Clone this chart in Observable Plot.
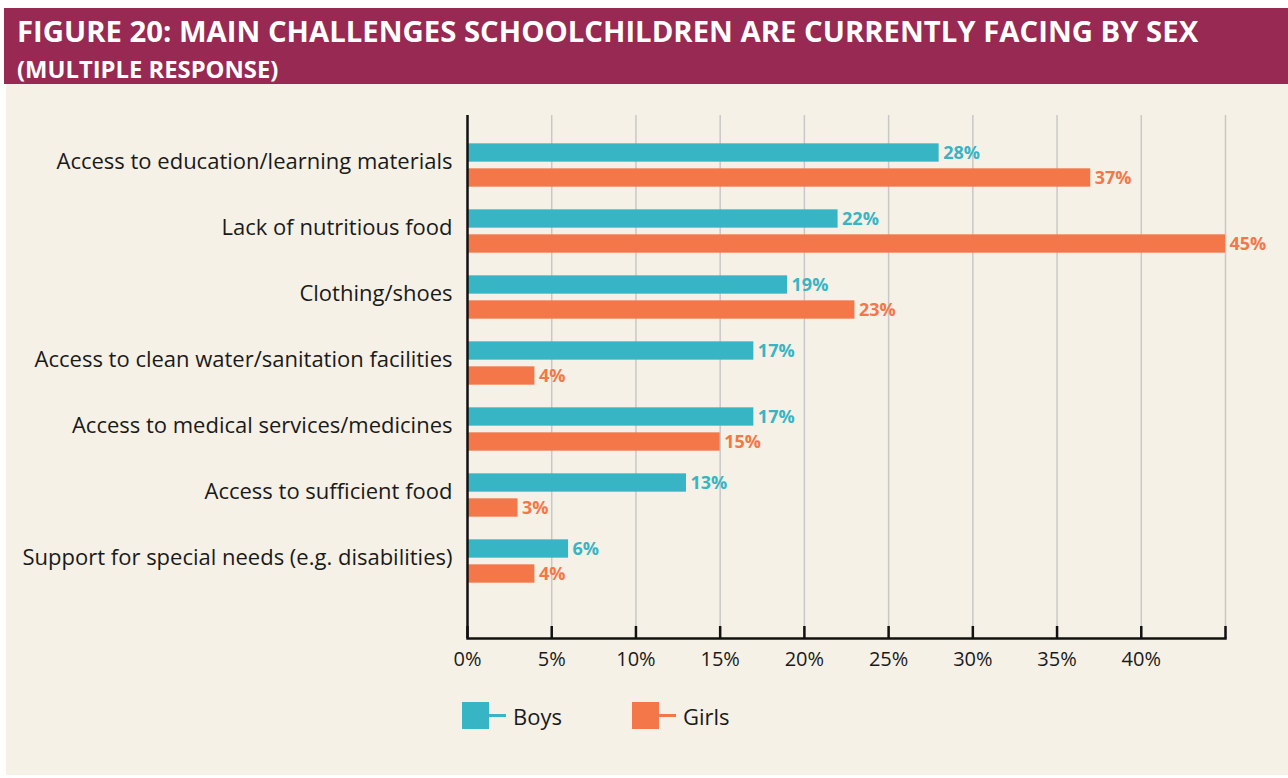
<!DOCTYPE html>
<html>
<head>
<meta charset="utf-8">
<script src="https://cdn.jsdelivr.net/npm/d3@7"></script>
<script src="https://cdn.jsdelivr.net/npm/@observablehq/plot@0.6"></script>
<style>
  body { margin: 0; background: #ffffff; font-family: "Open Sans", sans-serif; }
  #page { position: relative; width: 1288px; height: 778px; overflow: hidden; }
  #header { position: absolute; left: 4px; top: 8px; width: 1284px; height: 76px; background: #972952; color: #ffffff; }
  #title { position: absolute; left: 13px; top: 8.5px; font-size: 29.3px; font-weight: 700; line-height: 1; white-space: nowrap; }
  #subtitle { position: absolute; left: 13px; top: 49.5px; font-size: 23.8px; font-weight: 700; line-height: 1; white-space: nowrap; }
  #panel { position: absolute; left: 6px; top: 84px; width: 1282px; height: 691px; background: #f6f1e6; }
  #chart { position: absolute; left: 0; top: 0; }
  .item { position: absolute; top: 618px; display: flex; align-items: center; height: 27px; font-size: 22px; color: #1a1a1a; }
  .sw { width: 27px; height: 27px; }
  .ln { width: 17px; height: 2.5px; margin-right: 7px; }
</style>
</head>
<body>
<div id="page">
  <div id="header">
    <div id="title">FIGURE 20: MAIN CHALLENGES SCHOOLCHILDREN ARE CURRENTLY FACING BY SEX</div>
    <div id="subtitle">(MULTIPLE RESPONSE)</div>
  </div>
  <div id="panel">
    <div id="chart"></div>
    <div id="legend"></div>
  </div>
</div>
<script>
const categories = [
  "Access to education/learning materials",
  "Lack of nutritious food",
  "Clothing/shoes",
  "Access to clean water/sanitation facilities",
  "Access to medical services/medicines",
  "Access to sufficient food",
  "Support for special needs (e.g. disabilities)"
];
const boys = [28, 22, 19, 17, 17, 13, 6];
const girls = [37, 45, 23, 4, 15, 3, 4];
const sexes = ["Boys", "Girls"];
const colors = ["#37b5c5", "#f47749"];
const xTicks = [0, 5, 10, 15, 20, 25, 30, 35, 40, 45];
const xLabelTicks = [0, 5, 10, 15, 20, 25, 30, 35, 40];

const boysData = categories.map((c, i) => ({category: c, sex: "Boys", value: boys[i]}));
const girlsData = categories.map((c, i) => ({category: c, sex: "Girls", value: girls[i]}));

const chart = Plot.plot({
  width: 1282,
  height: 610,
  marginLeft: 461,
  marginRight: 63,
  marginTop: 31,
  marginBottom: 56,
  style: {background: "transparent", fontFamily: "Open Sans, sans-serif", fontSize: "22px", color: "#1a1a1a", overflow: "visible"},
  x: {domain: [0, 45], label: null},
  y: {domain: categories, range: [45.67, 512.33], padding: 0, label: null},
  color: {domain: sexes, range: colors},
  marks: [
    Plot.gridX(xTicks.slice(1), {stroke: "#c8c8c8", strokeOpacity: 1, strokeWidth: 1.5}),
    Plot.barX(boysData, {x: "value", y: "category", fill: "sex", insetTop: 11.33, insetBottom: 36.33}),
    Plot.barX(girlsData, {x: "value", y: "category", fill: "sex", insetTop: 36.33, insetBottom: 11.33}),
    Plot.text(boysData, {x: "value", y: "category", text: d => d.value + "%", fill: "sex", dx: 4, dy: -12.5, textAnchor: "start", fontWeight: "bold", fontSize: 18}),
    Plot.text(girlsData, {x: "value", y: "category", text: d => d.value + "%", fill: "sex", dx: 4, dy: 12.5, textAnchor: "start", fontWeight: "bold", fontSize: 18}),
    Plot.ruleX(xTicks, {stroke: "#111", strokeWidth: 2.5, insetTop: 511}),
    Plot.ruleX([0], {stroke: "#111", strokeWidth: 2.5}),
    Plot.frame({anchor: "bottom", stroke: "#111", strokeWidth: 2.5}),
    Plot.axisY({tickSize: 0, tickPadding: 15, fontSize: 22, dy: -4, label: null}),
    Plot.axisX(xLabelTicks, {tickSize: 0, tickPadding: 13, fontSize: 20, tickFormat: d => d + "%", label: null})
  ]
});
document.getElementById("chart").appendChild(chart);

const legend = document.getElementById("legend");
const lefts = [456, 626];
sexes.forEach((s, i) => {
  const item = document.createElement("div");
  item.className = "item";
  item.style.left = lefts[i] + "px";
  item.innerHTML = `<div class="sw" style="background:${colors[i]}"></div><div class="ln" style="background:${colors[i]}"></div><span>${s}</span>`;
  legend.appendChild(item);
});
</script>
</body>
</html>
